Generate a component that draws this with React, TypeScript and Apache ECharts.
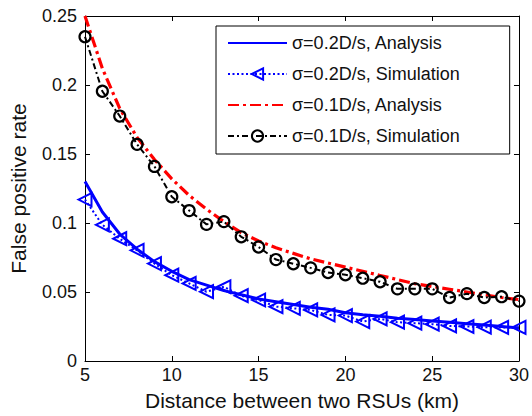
import React, { useEffect, useRef } from "react";
import * as echarts from "echarts";

const distances = [5,6,7,8,9,10,11,12,13,14,15,16,17,18,19,20,21,22,23,24,25,26,27,28,29,30];
const blueAnalysis = [0.130,0.108,0.092,0.081,0.072,0.065,0.059,0.055,0.051,0.048,0.045,0.043,0.041,0.039,0.0375,0.035,0.0335,0.0325,0.031,0.030,0.029,0.028,0.027,0.026,0.025,0.024];
const blueSimulation = [0.117,0.0987,0.0886,0.0802,0.0706,0.0622,0.0562,0.0502,0.0538,0.0473,0.0442,0.0394,0.0382,0.037,0.0334,0.0329,0.0286,0.0305,0.0281,0.0274,0.0267,0.0254,0.025,0.0245,0.0243,0.0243];
const redAnalysis = [0.250,0.212,0.183,0.162,0.146,0.132,0.120,0.110,0.101,0.093,0.087,0.082,0.078,0.074,0.071,0.068,0.065,0.062,0.059,0.056,0.054,0.052,0.050,0.048,0.046,0.0445];
const blackSimulation = [0.235,0.1955,0.1775,0.157,0.141,0.119,0.109,0.099,0.101,0.090,0.0826,0.0735,0.0705,0.0675,0.0641,0.0625,0.060,0.0574,0.0523,0.0523,0.0523,0.046,0.0488,0.046,0.0466,0.0434];
const seriesNames = ["σ=0.2D/s, Analysis", "σ=0.2D/s, Simulation", "σ=0.1D/s, Analysis", "σ=0.1D/s, Simulation"];

const FONT = "Liberation Sans, Arial, Helvetica, sans-serif";

const pairs = (ys: number[]) => distances.map((x, i) => [x, ys[i]]);

export default function App() {
  const ref = useRef<HTMLDivElement>(null);
  useEffect(() => {
    document.body.style.margin = "0";
    const chart = echarts.init(ref.current!, undefined, { renderer: "svg" });
    const axisCommon = {
      axisLine: { show: true, onZero: false, lineStyle: { color: "#000", width: 1 } },
      axisTick: { show: true, inside: true, length: 5, lineStyle: { color: "#000" } },
      splitLine: { show: false },
    };
    chart.setOption({
      animation: false,
      backgroundColor: "#fff",
      grid: { left: 82, right: 10, top: 16, bottom: 53 },
      xAxis: [
        {
          type: "value", min: 5, max: 30, interval: 5,
          name: "Distance between two RSUs (km)", nameLocation: "middle", nameGap: 29,
          nameTextStyle: { fontSize: 21, color: "#111", fontFamily: FONT },
          axisLabel: { fontSize: 18, color: "#111", fontFamily: FONT, margin: 5 },
          ...axisCommon,
        },
        {
          type: "value", position: "top", min: 5, max: 30, interval: 5,
          axisLabel: { show: false },
          ...axisCommon,
        },
      ],
      yAxis: [
        {
          type: "value", min: 0, max: 0.25, interval: 0.05,
          name: "False positive rate", nameLocation: "middle", nameGap: 56,
          nameTextStyle: { fontSize: 21, color: "#111", fontFamily: FONT },
          axisLabel: { fontSize: 18, color: "#111", fontFamily: FONT, margin: 8 },
          ...axisCommon,
        },
        {
          type: "value", position: "right", min: 0, max: 0.25, interval: 0.05,
          axisLabel: { show: false },
          ...axisCommon,
        },
      ],
      legend: {
        orient: "vertical",
        left: 216, top: 26,
        padding: [8, 50, 9, 11],
        itemWidth: 59, itemHeight: 14, itemGap: 13,
        borderColor: "#000", borderWidth: 1, borderRadius: 0,
        backgroundColor: "#fff",
        textStyle: { fontSize: 18, color: "#111", fontFamily: FONT },
        data: [
          { name: seriesNames[0], itemStyle: { opacity: 0 } },
          { name: seriesNames[1] },
          { name: seriesNames[2], itemStyle: { opacity: 0 } },
          { name: seriesNames[3] },
        ],
      },
      series: [
        {
          name: seriesNames[0], type: "line", data: pairs(blueAnalysis),
          symbol: "none",
          lineStyle: { color: "#0000ff", width: 3, type: "solid" },
          itemStyle: { color: "#0000ff" },
        },
        {
          name: seriesNames[1], type: "line", data: pairs(blueSimulation),
          symbol: "triangle", symbolRotate: 90, symbolSize: 13,
          lineStyle: { color: "#0000ff", width: 2, type: [2, 2.5] },
          itemStyle: { color: "transparent", borderColor: "#0000ff", borderWidth: 2 },
        },
        {
          name: seriesNames[2], type: "line", data: pairs(redAnalysis),
          symbol: "none",
          lineStyle: { color: "#ff0000", width: 3.2, type: [11, 4, 3, 4] },
          itemStyle: { color: "#ff0000" },
        },
        {
          name: seriesNames[3], type: "line", data: pairs(blackSimulation),
          symbol: "circle", symbolSize: 11,
          lineStyle: { color: "#000", width: 2, type: [6, 3, 2, 3] },
          itemStyle: { color: "transparent", borderColor: "#000", borderWidth: 2.2 },
        },
      ],
    });
    return () => chart.dispose();
  }, []);
  return <div ref={ref} style={{ width: 532, height: 416 }} />;
}
